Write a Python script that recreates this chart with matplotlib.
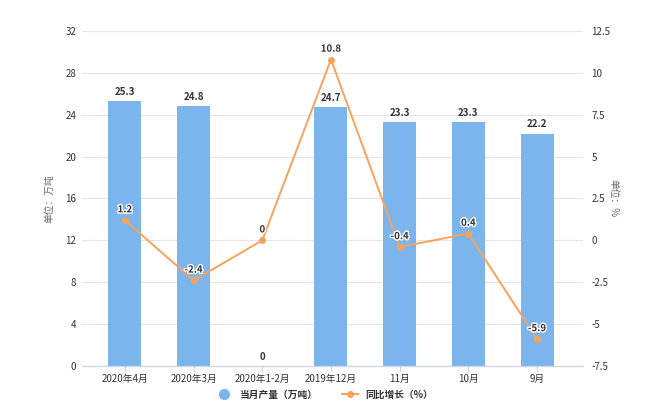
import matplotlib.pyplot as plt
import matplotlib.patheffects as pe
import numpy as np

plt.rcParams['font.family'] = ['Noto Sans CJK SC', 'DejaVu Sans']

categories = ["2020年4月", "2020年3月", "2020年1-2月", "2019年12月", "11月", "10月", "9月"]
output = [25.3, 24.8, 0, 24.7, 23.3, 23.3, 22.2]
growth = [1.2, -2.4, 0, 10.8, -0.4, 0.4, -5.9]
left_ticks = [0, 4, 8, 12, 16, 20, 24, 28, 32]
right_ticks = [-7.5, -5, -2.5, 0, 2.5, 5, 7.5, 10, 12.5]

bar_color = "#7cb5ec"
line_color = "#f7a35c"
text_color = "#333333"

fig = plt.figure(figsize=(6.5, 4.2), dpi=100)
ax = fig.add_axes([0.126, 0.129, 0.771, 0.797])
ax2 = ax.twinx()

x = np.arange(len(categories))
ax.bar(x, output, width=0.48, color=bar_color, zorder=2)
for xi, v in zip(x, output):
    ax.text(xi, v + 0.4, f"{v:g}", ha="center", va="bottom", fontsize=7,
            fontweight="bold", color=text_color)

ax.set_xlim(-0.626, 6.67)
ax.set_ylim(0, 32)
ax.set_yticks(left_ticks)
ax.set_yticklabels([f"{t:g}" for t in left_ticks], fontsize=7, color=text_color)
ax.set_xticks(x)
ax.set_xticklabels(categories, fontsize=7, color=text_color)
ax.grid(axis="y", color="#e6e6e6", linewidth=0.8, zorder=0)
ax.tick_params(axis="y", length=0, pad=4)
ax.tick_params(axis="x", length=4, color="#ccd6eb", pad=2)
ax.set_ylabel("单位：万吨", fontsize=7, color="#666666", labelpad=8)

ax2.plot(x, growth, color=line_color, linewidth=1.4, marker="o", markersize=4, zorder=3)
for xi, v in zip(x, growth):
    ax2.text(xi, v + 0.35, f"{v:g}", ha="center", va="bottom", fontsize=7,
             fontweight="bold", color=text_color,
             path_effects=[pe.withStroke(linewidth=2, foreground="white")])
ax2.set_ylim(-7.5, 12.5)
ax2.set_yticks(right_ticks)
ax2.set_yticklabels([f"{t:g}" for t in right_ticks], fontsize=7, color=text_color)
ax2.tick_params(axis="y", length=0, pad=6)
ax2.set_ylabel("单位：%", fontsize=7, color="#666666", rotation=-90, labelpad=6)

for a in (ax, ax2):
    for s in ("top", "left", "right"):
        a.spines[s].set_visible(False)
    a.spines["bottom"].set_color("#ccd6eb")
ax.set_zorder(ax2.get_zorder() - 1)
ax.patch.set_visible(True)
ax2.patch.set_visible(False)

h1 = plt.Line2D([], [], marker="o", linestyle="none", markersize=7, color=bar_color)
h2 = plt.Line2D([], [], marker="o", linestyle="-", markersize=4, color=line_color, linewidth=1.4)
fig.legend([h1, h2], ["当月产量（万吨）", "同比增长（%）"], loc="center",
           bbox_to_anchor=(0.5, 0.06), ncol=2, frameon=False,
           prop={"size": 7, "weight": "bold"},
           handlelength=1.6, columnspacing=2.5, labelcolor=text_color)

fig.savefig("out.png", dpi=100)
